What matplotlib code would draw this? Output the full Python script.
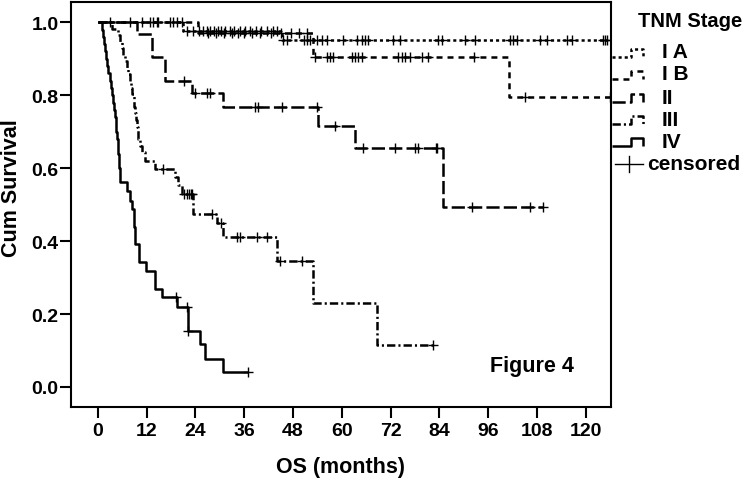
import matplotlib
matplotlib.use('Agg')
import matplotlib.pyplot as plt
from matplotlib.lines import Line2D
import numpy as np

plt.rcParams['font.family'] = ['Liberation Sans', 'DejaVu Sans']
plt.rcParams['font.weight'] = 'bold'
plt.rcParams['lines.scale_dashes'] = False

# ---------------- data ----------------
stages = ['I A', 'I B', 'II', 'III', 'IV']

# event times (months) and cumulative survival right after each event
ia_t = [21.0, 45.2]
ia_s = [0.976, 0.951]
ia_c = [10.8, 12.9, 13.7, 14.5, 14.9, 17.8, 18.6, 19.4, 20.7, 22.0, 23.5, 25.0,
        26.0, 26.8, 27.6, 28.5, 29.5, 30.3, 31.2, 32.5, 33.5, 35.0, 36.2, 37.5,
        39.0, 40.2, 41.5, 43.0, 44.2, 45.6, 46.5, 50.6, 51.4, 52.2, 53.8, 55.1,
        56.3, 60.4, 63.7, 64.9, 65.7, 66.5, 72.7, 74.3, 83.7, 84.6, 90.3, 92.8,
        101.4, 102.2, 103.0, 108.8, 110.4, 115.3, 116.5, 124.2, 124.7, 125.2]

ib_t = [24.7, 53.0, 101.2]
ib_s = [0.970, 0.906, 0.794]
ib_c = [27.0, 29.0, 31.0, 33.0, 34.5, 36.0, 38.0, 40.0, 42.5, 45.0, 47.5, 49.5,
        51.5, 53.5, 56.3, 57.1, 57.9, 62.5, 63.3, 64.1, 64.9, 73.9, 74.7, 75.6,
        76.8, 79.7, 81.3, 92.4, 105.1, 126.0]

ii_t = [9.6, 13.3, 16.5, 23.1, 30.9, 54.2, 63.3, 85.0]
ii_s = [0.968, 0.904, 0.840, 0.806, 0.767, 0.715, 0.654, 0.493]
ii_c = [3.0, 7.9, 21.3, 23.9, 26.8, 27.6, 38.7, 39.5, 45.2, 53.8, 58.3, 65.3,
        73.1, 78.0, 78.8, 83.2, 83.5, 92.0, 106.3, 109.6]

iii_t = [3.4, 5.1, 5.5, 5.9, 6.3, 6.7, 7.1, 7.5, 7.9, 8.2, 8.5, 8.8, 9.0, 9.2,
         9.4, 9.6, 9.8, 10.0, 10.4, 10.9, 11.6, 14.1, 19.0, 19.8, 20.7, 23.5,
         29.3, 30.9, 44.0, 53.0, 68.6]
iii_s = [0.982, 0.964, 0.946, 0.929, 0.911, 0.893, 0.875, 0.857, 0.839, 0.821,
         0.804, 0.786, 0.768, 0.750, 0.732, 0.714, 0.696, 0.679, 0.661, 0.643,
         0.620, 0.598, 0.575, 0.553, 0.529, 0.474, 0.450, 0.410, 0.346, 0.230,
         0.115]
iii_c = [16.1, 21.3, 22.0, 22.5, 22.9, 23.2, 28.2, 30.4, 34.2, 35.0, 39.1, 41.6,
         44.8, 50.2, 82.5]

iv_t = [1.0, 1.2, 1.5, 1.8, 2.0, 2.3, 2.6, 3.0, 3.3, 3.6, 3.8, 4.0, 4.2, 4.4,
        4.6, 4.8, 4.9, 5.0, 5.2, 5.3, 5.4, 5.5, 7.1, 7.9, 8.4, 8.9, 9.0, 9.1,
        9.2, 10.2, 11.8, 14.1, 15.7, 19.6, 22.3, 25.2, 26.4, 30.9]
iv_s = [0.98, 0.96, 0.94, 0.92, 0.90, 0.88, 0.86, 0.84, 0.82, 0.80, 0.78, 0.76,
        0.74, 0.72, 0.70, 0.68, 0.66, 0.64, 0.62, 0.60, 0.58, 0.562, 0.538,
        0.510, 0.488, 0.465, 0.440, 0.415, 0.392, 0.342, 0.319, 0.269, 0.246,
        0.219, 0.154, 0.118, 0.077, 0.040]
iv_c = [19.3, 21.9, 22.3, 37.0]

xticks = [0, 12, 24, 36, 48, 60, 72, 84, 96, 108, 120]
yticks = [0.0, 0.2, 0.4, 0.6, 0.8, 1.0]

# ---------------- styling ----------------
styles = [(0, (2.2, 2.2)), (0, (4.3, 3.6)), (0, (9.5, 3.0)),
          (0, (6.0, 2.2, 1.5, 2.2)), '-']
groups = [(ia_t, ia_s, ia_c), (ib_t, ib_s, ib_c), (ii_t, ii_s, ii_c),
          (iii_t, iii_s, iii_c), (iv_t, iv_s, iv_c)]

W, H = 746, 481
fig = plt.figure(figsize=(W / 100, H / 100), dpi=100)
ax = fig.add_axes([71 / W, 1 - 408 / H, 540 / W, 405 / H])

LW = 1.8
for (t, s, c), ls in zip(groups, styles):
    t = np.asarray(t, float)
    s = np.asarray(s, float)
    c = np.asarray(c, float)
    end = max(t.max(), c.max())
    x = np.concatenate([[0.0], t, [end]])
    y = np.concatenate([[1.0], s, [s[-1]]])
    ax.step(x, y, where='post', color='black', lw=LW, linestyle=ls,
            solid_capstyle='butt')
    idx = np.searchsorted(t, c, side='right') - 1
    cy = np.where(idx >= 0, s[np.clip(idx, 0, None)], 1.0)
    ax.plot(c, cy, linestyle='none', marker='+', color='black',
            markersize=7.5, markeredgewidth=1.0)

ax.set_xlim(-6.57, 126.2)
ax.set_ylim(-0.055, 1.0557)
ax.set_xticks(xticks)
ax.set_xticklabels([str(v) for v in xticks])
ax.set_yticks(yticks)
ax.set_yticklabels([f'{v:.1f}' for v in yticks])
ax.tick_params(axis='both', direction='out', length=8, width=1.5,
               labelsize=14, color='black')
ax.tick_params(axis='y', pad=1)
ax.tick_params(axis='x', pad=3)
for lab in ax.get_xticklabels() + ax.get_yticklabels():
    lab.set_fontweight('bold')
for sp in ax.spines.values():
    sp.set_linewidth(1.5)
    sp.set_color('black')

ax.set_xlabel('OS (months)', fontsize=15.5, fontweight='bold')
ax.xaxis.set_label_coords(0.5, -0.121)
ax.set_ylabel('Cum Survival', fontsize=15.5, fontweight='bold')
ax.yaxis.set_label_coords(-0.09, 0.543)

ax.text(96.5, 0.044, 'Figure 4', fontsize=15.5, fontweight='bold',
        ha='left', va='baseline')

# ---------------- legend (SPSS style, drawn in figure pixels) ----------------
def fx(px):
    return px / W

def fy(py):
    return 1 - py / H

fig.text(fx(638), fy(21.7), 'TNM Stage', fontsize=14.5, fontweight='bold',
         ha='left', va='center')
centers = [53.5, 76, 99, 121, 143]
for name, ls, yc in zip(stages, styles, centers):
    xs = [612, 631, 631, 643, 643]
    ys = [yc + 4, yc + 4, yc - 4, yc - 4, yc + 4]
    fig.add_artist(Line2D([fx(v) for v in xs], [fy(v) for v in ys],
                          transform=fig.transFigure, color='black', lw=LW,
                          linestyle=ls, solid_capstyle='butt'))
    fig.text(fx(662), fy(yc - 1), name, fontsize=15, fontweight='bold',
             ha='left', va='center')
yc = 165
fig.add_artist(Line2D([fx(615), fx(643)], [fy(yc), fy(yc)],
                      transform=fig.transFigure, color='black', lw=1.0))
fig.add_artist(Line2D([fx(629), fx(629)], [fy(yc - 8), fy(yc + 8)],
                      transform=fig.transFigure, color='black', lw=1.0))
fig.text(fx(647), fy(yc), 'censored', fontsize=15, fontweight='bold',
         ha='left', va='center')

fig.savefig('out.png', dpi=100)
